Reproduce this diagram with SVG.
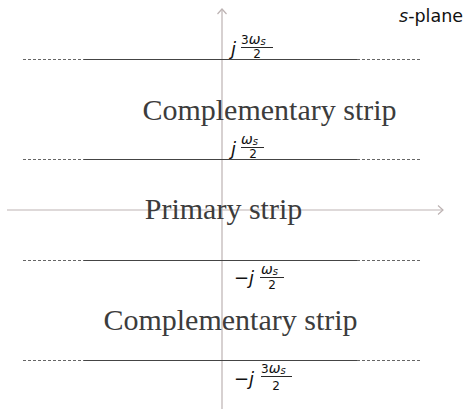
<svg xmlns="http://www.w3.org/2000/svg" width="466" height="410" viewBox="0 0 466 410">
<defs>
<style>
.axis{stroke:#bdb3b3;stroke-width:1.2;fill:none}
.solid{stroke:#444;stroke-width:1}
.dash{stroke:#666;stroke-width:1;stroke-dasharray:3 2}
.strip{font-family:"Liberation Serif","Times New Roman",serif;font-size:30px;fill:#3c3c3c;text-anchor:middle}
.m{font-family:"DejaVu Sans",sans-serif;fill:#111}
.mi{font-style:italic}
.bar{stroke:#111;stroke-width:0.9}
</style>
<marker id="arr" viewBox="-6 -6 8 12" markerWidth="8" markerHeight="12" refX="0" refY="0" orient="auto" markerUnits="userSpaceOnUse">
<path d="M-5,-4.5 L0,0 L-5,4.5" fill="none" stroke="#bdb3b3" stroke-width="1.2"/>
</marker>
</defs>
<rect width="466" height="410" fill="#fff"/>
<g id="connectors">
<line id="real-axis" class="axis" x1="7" y1="210" x2="443" y2="210" marker-end="url(#arr)"/>
<line id="imag-axis" class="axis" x1="222" y1="409" x2="222" y2="9" marker-end="url(#arr)"/>
</g>
<g id="boundaries">
<g id="b1"><line class="dash" x1="23" y1="59.5" x2="84" y2="59.5"/><line class="solid" x1="84" y1="59.5" x2="357" y2="59.5"/><line class="dash" x1="357" y1="59.5" x2="420" y2="59.5"/></g>
<g id="b2"><line class="dash" x1="23" y1="159.5" x2="84" y2="159.5"/><line class="solid" x1="84" y1="159.5" x2="357" y2="159.5"/><line class="dash" x1="357" y1="159.5" x2="420" y2="159.5"/></g>
<g id="b3"><line class="dash" x1="23" y1="260.5" x2="84" y2="260.5"/><line class="solid" x1="84" y1="260.5" x2="357" y2="260.5"/><line class="dash" x1="357" y1="260.5" x2="420" y2="260.5"/></g>
<g id="b4"><line class="dash" x1="23" y1="360.5" x2="84" y2="360.5"/><line class="solid" x1="84" y1="360.5" x2="357" y2="360.5"/><line class="dash" x1="357" y1="360.5" x2="420" y2="360.5"/></g>
</g>
<g id="strip-top"><text class="strip" x="269.5" y="120">Complementary strip</text></g>
<g id="strip-primary"><text class="strip" x="223.5" y="219">Primary strip</text></g>
<g id="strip-bottom"><text class="strip" x="230.5" y="330">Complementary strip</text></g>
<g id="splane"><text x="399" y="22" font-family="DejaVu Sans,sans-serif" font-size="17.5" fill="#111"><tspan font-style="italic">s</tspan>-plane</text></g>
<g id="label-3ws">
<text class="m mi" x="231" y="55" font-size="18">j</text>
<text class="m" x="241" y="43.5" font-size="12">3<tspan class="mi" font-size="14">ω</tspan><tspan class="mi" font-size="10" dy="1">s</tspan></text>
<line class="bar" x1="241" y1="47.5" x2="273" y2="47.5"/>
<text class="m" x="257" y="57.5" font-size="12" text-anchor="middle">2</text>
</g>
<g id="label-ws">
<text class="m mi" x="231" y="155" font-size="18">j</text>
<text class="m" x="241" y="143.5" font-size="14"><tspan class="mi">ω</tspan><tspan class="mi" font-size="10" dy="1">s</tspan></text>
<line class="bar" x1="241" y1="147.5" x2="264" y2="147.5"/>
<text class="m" x="253" y="157.5" font-size="12" text-anchor="middle">2</text>
</g>
<g id="label-neg-ws">
<text class="m" x="234" y="284" font-size="18">−<tspan class="mi">j</tspan></text>
<text class="m" x="261" y="273.5" font-size="14"><tspan class="mi">ω</tspan><tspan class="mi" font-size="10" dy="1">s</tspan></text>
<line class="bar" x1="260" y1="277.5" x2="284" y2="277.5"/>
<text class="m" x="272" y="288.5" font-size="12" text-anchor="middle">2</text>
</g>
<g id="label-neg-3ws">
<text class="m" x="234" y="385" font-size="18">−<tspan class="mi">j</tspan></text>
<text class="m" x="261" y="372.5" font-size="12">3<tspan class="mi" font-size="14">ω</tspan><tspan class="mi" font-size="10" dy="1">s</tspan></text>
<line class="bar" x1="261" y1="376.5" x2="292" y2="376.5"/>
<text class="m" x="276" y="389.5" font-size="12" text-anchor="middle">2</text>
</g>
</svg>
